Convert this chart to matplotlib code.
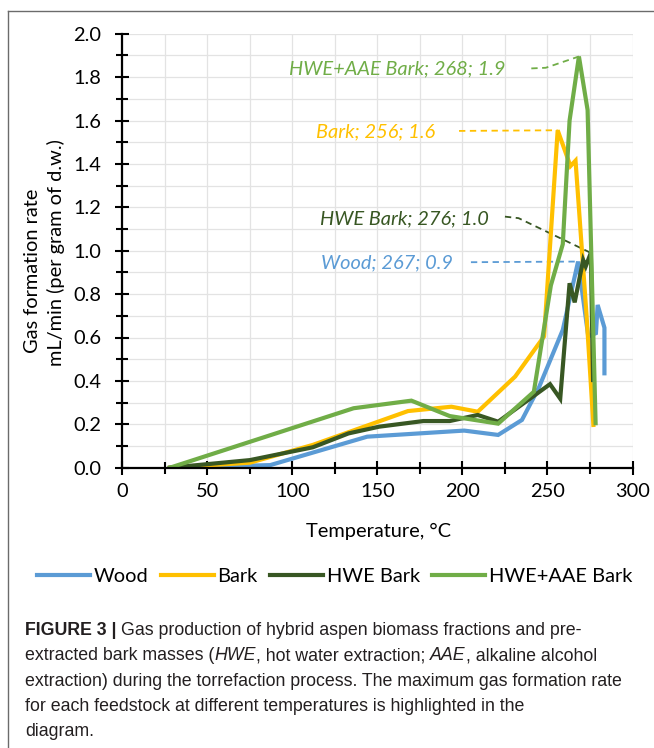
import numpy as np
import matplotlib
matplotlib.use("Agg")
import matplotlib.pyplot as plt
from matplotlib.lines import Line2D
from matplotlib.ticker import MultipleLocator


# -------------------------------------------------------------------------
# DATA
# -------------------------------------------------------------------------
series_names = ["Wood", "Bark", "HWE Bark", "HWE+AAE Bark"]

wood_T = [28, 87, 144, 201, 221, 235, 245, 259, 268, 274, 278.5, 279.5, 283.5, 283.5]
wood_V = [0.0, 0.012, 0.143, 0.171, 0.151, 0.22, 0.37, 0.635, 0.95, 0.605, 0.62, 0.75, 0.645, 0.435]

bark_T = [28, 75, 112, 168, 193.5, 209, 231, 248, 256, 263.5, 266.5, 273, 277]
bark_V = [0.0, 0.023, 0.105, 0.261, 0.281, 0.258, 0.42, 0.605, 1.555, 1.39, 1.415, 0.70, 0.197]

hwe_T = [28, 75, 112, 133, 151, 177, 192.5, 209, 221, 251.5, 257.5, 263, 266, 271, 272.5, 275.5, 276.8]
hwe_V = [0.0, 0.035, 0.094, 0.158, 0.189, 0.215, 0.215, 0.243, 0.212, 0.385, 0.318, 0.85, 0.762, 0.957, 0.928, 0.99, 0.404]

aae_T = [28, 136, 170, 192.5, 221, 242, 252, 259, 263, 268.5, 273.6, 278.3]
aae_V = [0.0, 0.274, 0.309, 0.238, 0.203, 0.35, 0.84, 1.03, 1.6, 1.895, 1.648, 0.205]

peak_labels = ["Wood; 267; 0.9", "Bark; 256; 1.6", "HWE Bark; 276; 1.0", "HWE+AAE Bark; 268; 1.9"]

caption_lines = [
    [("FIGURE 3 |", "bold", "normal"), (" Gas production of hybrid aspen biomass fractions and pre-", "normal", "normal")],
    [("extracted bark masses (", "normal", "normal"), ("HWE", "normal", "italic"),
     (", hot water extraction; ", "normal", "normal"), ("AAE", "normal", "italic"),
     (", alkaline alcohol", "normal", "normal")],
    [("extraction) during the torrefaction process. The maximum gas formation rate", "normal", "normal")],
    [("for each feedstock at different temperatures is highlighted in the", "normal", "normal")],
    [("diagram.", "normal", "normal")],
]

# -------------------------------------------------------------------------
# STYLE
# -------------------------------------------------------------------------
colors = ["#5B9BD5", "#FFC000", "#385723", "#70AD47"]
# label anchor (left x, centre y) and start of dashed leader, data units
label_pos = [(117, 0.945), (114, 1.548), (116, 1.149), (98, 1.84)]
leader_start = [[(205, 0.947)], [(198, 1.552)], [(225, 1.157), (233, 1.15)], [(240.5, 1.84), (249, 1.843)]]

W, H = 654, 748
plt.rcParams["font.family"] = ["Lato", "DejaVu Sans"]
FS = 14.4

fig = plt.figure(figsize=(W / 100, H / 100), dpi=100)
ax = fig.add_axes([122.3 / W, 1 - 467.7 / H, (632.5 - 122.3) / W, (467.7 - 33.7) / H])

# page border (left + top)
fig.add_artist(Line2D([8 / W, 8 / W], [0, 1 - 10.5 / H], color="#6b6b6b", lw=1.0))
fig.add_artist(Line2D([8 / W, 1], [1 - 10.5 / H, 1 - 10.5 / H], color="#6b6b6b", lw=1.0))

# -------------------------------------------------------------------------
# PLOT
# -------------------------------------------------------------------------
all_T = [wood_T, bark_T, hwe_T, aae_T]
all_V = [wood_V, bark_V, hwe_V, aae_V]

handles = []
for T, V, c, name in zip(all_T, all_V, colors, series_names):
    (h,) = ax.plot(T, V, color=c, lw=3.0, solid_joinstyle="miter", label=name, zorder=3)
    handles.append(h)

for i in range(4):
    T = np.array(all_T[i])
    V = np.array(all_V[i])
    k = int(np.argmax(V))
    pts = leader_start[i] + [(T[k], V[k])]
    xs = [p[0] for p in pts]
    ys = [p[1] for p in pts]
    ax.plot(xs, ys, color=colors[i], lw=1.3, ls=(0, (3.5, 2.5)), zorder=2)
    ax.text(label_pos[i][0], label_pos[i][1], peak_labels[i], color=colors[i],
            fontsize=FS, style="italic", ha="left", va="center")

ax.set_xlim(0, 300)
ax.set_ylim(0, 2.0)
ax.xaxis.set_major_locator(MultipleLocator(50))
ax.xaxis.set_minor_locator(MultipleLocator(25))
ax.yaxis.set_major_locator(MultipleLocator(0.2))
ax.yaxis.set_minor_locator(MultipleLocator(0.1))
ax.yaxis.set_major_formatter(matplotlib.ticker.FormatStrFormatter("%.1f"))
ax.grid(which="both", color="#E3E3E3", lw=0.9, zorder=0)
ax.set_axisbelow(True)

for s in ["top", "right"]:
    ax.spines[s].set_visible(False)
for s in ["left", "bottom"]:
    ax.spines[s].set_linewidth(1.6)
    ax.spines[s].set_zorder(4)

ax.tick_params(which="both", direction="inout", width=1.5, colors="black")
ax.tick_params(which="major", length=10, labelsize=FS)
ax.tick_params(which="minor", length=8)
ax.tick_params(axis="y", which="major", pad=10)
ax.tick_params(axis="x", which="major", pad=6)

fig.text(378 / W, 1 - 531 / H, "Temperature, °C", fontsize=FS, ha="center", va="center")
fig.text(33 / W, 1 - 271 / H, "Gas formation rate", fontsize=FS, ha="center", va="center", rotation=90)
fig.text(56 / W, 1 - 253 / H, "mL/min (per gram of d.w.)", fontsize=FS, ha="center", va="center", rotation=90)

fig.legend(handles=handles, labels=series_names, loc="center", bbox_to_anchor=(334.5 / W, 1 - 576.7 / H),
           ncol=4, frameon=False, fontsize=FS, handlelength=2.65, handletextpad=0.2, columnspacing=0.6,
           borderpad=0, borderaxespad=0)

# -------------------------------------------------------------------------
# CAPTION (mixed bold / italic runs)
# -------------------------------------------------------------------------
cap_family = ["Liberation Sans", "DejaVu Sans"]
cap_fs = 12.8
renderer = fig.canvas.get_renderer()


def text_width(s, weight, style):
    t = fig.text(0, 0, s, fontsize=cap_fs, family=cap_family, weight=weight, style=style)
    w = t.get_window_extent(renderer=renderer).width
    t.remove()
    return w


space_w = text_width("a a", "normal", "normal") - text_width("aa", "normal", "normal")

baselines = [635, 660.3, 685.6, 710.9, 736.2]
for line, yb in zip(caption_lines, baselines):
    x = 25.0
    for s, weight, style in line:
        lead = len(s) - len(s.lstrip(" "))
        trail = len(s) - len(s.rstrip(" "))
        x += lead * space_w
        core = s.strip(" ")
        fig.text(x / W, 1 - yb / H, core, fontsize=cap_fs, family=cap_family, weight=weight,
                 style=style, ha="left", va="baseline", color="#231f20")
        x += text_width(core, weight, style) + trail * space_w

fig.savefig("out.png", dpi=100)
